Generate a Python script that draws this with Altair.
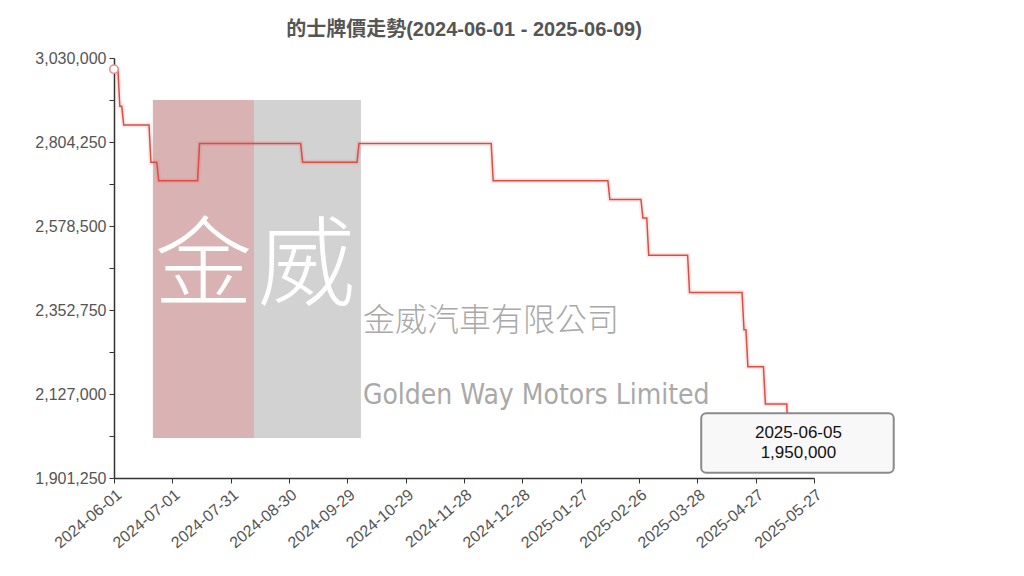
import altair as alt
import pandas as pd

# ---- data ----
dates = ["2024-06-01", "2024-06-03", "2024-06-04", "2024-06-05", "2024-06-06",
         "2024-06-19", "2024-06-20", "2024-06-23", "2024-06-24", "2024-07-14",
         "2024-07-15", "2024-09-05", "2024-09-06", "2024-10-04", "2024-10-05",
         "2024-12-12", "2024-12-13", "2025-02-10", "2025-02-11", "2025-02-27",
         "2025-02-28", "2025-03-02", "2025-03-03", "2025-03-23", "2025-03-24",
         "2025-04-20", "2025-04-21", "2025-04-22", "2025-04-23", "2025-05-01",
         "2025-05-02", "2025-05-13", "2025-05-14", "2025-05-27"]
prices = [3000000, 3000000, 2900000, 2900000, 2850000,
          2850000, 2750000, 2750000, 2700000, 2700000,
          2800000, 2800000, 2750000, 2750000, 2800000,
          2800000, 2700000, 2700000, 2650000, 2650000,
          2600000, 2600000, 2500000, 2500000, 2400000,
          2400000, 2300000, 2300000, 2200000, 2200000,
          2100000, 2100000, 1950000, 1950000]

x_tick_labels = ["2024-06-01", "2024-07-01", "2024-07-31", "2024-08-30", "2024-09-29",
                 "2024-10-29", "2024-11-28", "2024-12-28", "2025-01-27", "2025-02-26",
                 "2025-03-28", "2025-04-27", "2025-05-27"]
y_ticks = [1901250, 2127000, 2352750, 2578500, 2804250, 3030000]

title_text = "的士牌價走勢(2024-06-01 - 2025-06-09)"
tooltip_date = "2025-06-05"
tooltip_value = "1,950,000"

# watermark / tooltip placement in data space
wm_dates = ["2024-06-21", "2024-08-12", "2024-10-06"]
wm_top, wm_bottom = 2917000, 2008750
wm_char_dates = ["2024-07-17", "2024-09-08"]
wm_chars = ["金", "威"]
wm_char_y = 2462940
wm_text_date = "2024-10-07"
wm_cn = "金威汽車有限公司"
wm_cn_y = 2322000
wm_en = "Golden Way Motors Limited"
wm_en_y = 2122000
tip_dates = ["2025-03-30", "2025-07-07", "2025-05-19"]
tip_top, tip_bottom = 2075000, 1915500
tip_line_y = [2023000, 1969250]


def ms(s):
    return int(pd.Timestamp(s, tz="UTC").value // 10**6)


FONT = "Liberation Sans, Arial, Noto Sans CJK TC, sans-serif"
LINE = "#dd4b43"

x_scale = alt.Scale(type="utc", domain=[ms(x_tick_labels[0]), ms(x_tick_labels[-1])])
y_scale = alt.Scale(domain=[y_ticks[0], y_ticks[-1]], zero=False, nice=False)

half = (y_ticks[1] - y_ticks[0]) / 2
y_all_ticks = []
for i, v in enumerate(y_ticks):
    y_all_ticks.append(v)
    if i < len(y_ticks) - 1:
        y_all_ticks.append(v + half)

df = pd.DataFrame({"t": [ms(d) for d in dates], "price": prices})

x_axis = alt.Axis(values=[ms(d) for d in x_tick_labels], format="%Y-%m-%d",
                  labelAngle=-40, labelAlign="right", labelBaseline="top",
                  labelFontSize=16, labelColor="#555", labelFont=FONT, labelPadding=3,
                  domainColor="#333", domainWidth=1.5, tickColor="#333", tickSize=5,
                  grid=False, title=None, labelOverlap=False)
y_axis = alt.Axis(values=y_all_ticks,
                  labelExpr="(datum.value - 1901250) % 225750 === 0 ? format(datum.value, ',') : ''",
                  labelFontSize=16, labelColor="#555", labelFont=FONT, labelPadding=3,
                  domainColor="#333", domainWidth=1.5, tickColor="#333", tickSize=5,
                  grid=False, title=None)


def X(field):
    return alt.X(field, scale=x_scale, axis=x_axis)


def Y(field):
    return alt.Y(field, scale=y_scale, axis=y_axis)


# watermark rectangles
wm_df = pd.DataFrame({
    "x1": [ms(wm_dates[0]), ms(wm_dates[1])],
    "x2": [ms(wm_dates[1]), ms(wm_dates[2])],
    "y1": [wm_top, wm_top], "y2": [wm_bottom, wm_bottom],
    "c": ["#d9b3b3", "#d2d2d2"],
})
wm_rects = alt.Chart(wm_df).mark_rect().encode(
    x=X("x1:T"), x2="x2:T",
    y=Y("y1:Q"), y2="y2:Q",
    color=alt.Color("c:N", scale=None),
)

wm_chars_df = pd.DataFrame({"t": [ms(d) for d in wm_char_dates], "y": [wm_char_y] * 2, "s": wm_chars})
wm_big = alt.Chart(wm_chars_df).mark_text(
    fontSize=98, color="white", font="Noto Sans CJK TC", fontWeight=300,
    align="center", baseline="middle").encode(
    x=X("t:T"), y=Y("y:Q"), text="s:N")

wm_cn_df = pd.DataFrame({"t": [ms(wm_text_date)], "y": [wm_cn_y], "s": [wm_cn]})
wm_cn_mark = alt.Chart(wm_cn_df).mark_text(
    fontSize=32, color="#a9a9a9", font="Noto Sans CJK TC", fontWeight=300,
    align="left", baseline="middle").encode(
    x=X("t:T"), y=Y("y:Q"), text="s:N")

wm_en_df = pd.DataFrame({"t": [ms(wm_text_date)], "y": [wm_en_y], "s": [wm_en]})
wm_en_mark = alt.Chart(wm_en_df).mark_text(
    fontSize=28, color="#a9a9a9", font="DejaVu Sans Condensed, DejaVu Sans, sans-serif",
    align="left", baseline="middle").encode(
    x=X("t:T"), y=Y("y:Q"), text="s:N")

glow = alt.Chart(df).mark_line(color=LINE, strokeWidth=5, opacity=0.12).encode(
    x=X("t:T"), y=Y("price:Q"))

line = alt.Chart(df).mark_line(color=LINE, strokeWidth=1.5).encode(
    x=X("t:T"), y=Y("price:Q"))

first_pt = alt.Chart(df.iloc[[0]]).mark_point(
    shape="circle", filled=True, fill="white", stroke="#e88", strokeWidth=1.5, size=70, opacity=1).encode(
    x=X("t:T"), y=Y("price:Q"))

tip_df = pd.DataFrame({"x1": [ms(tip_dates[0])], "x2": [ms(tip_dates[1])],
                       "y1": [tip_top], "y2": [tip_bottom]})
tip_box = alt.Chart(tip_df).mark_rect(
    fill="#f8f8f8", stroke="#8a8a8a", strokeWidth=2, cornerRadius=5).encode(
    x=X("x1:T"), x2="x2:T", y=Y("y1:Q"), y2="y2:Q")

tip_txt_df = pd.DataFrame({"t": [ms(tip_dates[2])] * 2, "y": tip_line_y, "s": [tooltip_date, tooltip_value]})
tip_text = alt.Chart(tip_txt_df).mark_text(
    fontSize=17, color="#111", font=FONT, align="center", baseline="middle").encode(
    x=X("t:T"), y=Y("y:Q"), text="s:N")

chart = alt.layer(
    wm_rects, wm_big, wm_cn_mark, wm_en_mark, glow, line, first_pt, tip_box, tip_text
).properties(
    width=700, height=420,
    title=alt.TitleParams(title_text, fontSize=20, fontWeight="bold", color="#555",
                          font=FONT, anchor="middle", offset=10),
    autosize=alt.AutoSizeParams(type="none"),
    padding={"left": 106, "top": 50, "right": 200, "bottom": 90},
).configure_view(stroke=None)

chart.save("out.html", embed_options={"renderer": "svg", "actions": False})
